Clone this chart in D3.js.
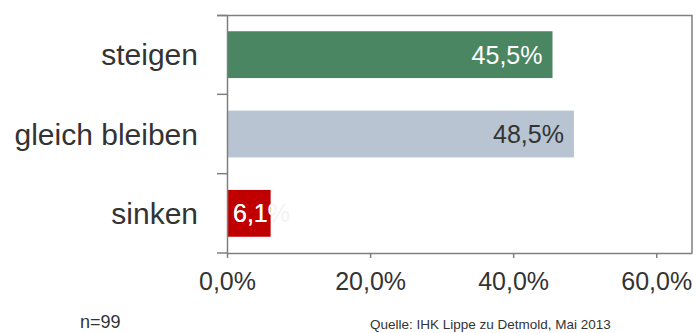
<!DOCTYPE html>
<html>
<head>
<meta charset="utf-8">
<script src="https://cdn.jsdelivr.net/npm/d3@7"></script>
<style>
  body { margin: 0; background: #fff; }
  text { font-family: "Liberation Sans", Arial, sans-serif; }
</style>
</head>
<body>
<svg id="chart"></svg>
<script>
// chart data
const categories = ["steigen", "gleich bleiben", "sinken"];
const values = [45.5, 48.5, 6.1];
const barColors = ["#4a8662", "#b8c4d1", "#c00000"];
const labelColors = ["#ffffff", "#333333", "#ffffff"];
const xTicks = [0, 20, 40, 60];
const noteText = "n=99";
const sourceText = "Quelle: IHK Lippe zu Detmold, Mai 2013";

const width = 699;
const height = 333;
const margin = { top: 15, right: 7, bottom: 80, left: 227 };
const chartWidth = width - margin.left - margin.right;
const chartHeight = height - margin.top - margin.bottom;
const axisColor = "#7f7f7f";
const textColor = "#333333";

const fmt = v => v.toFixed(1).replace(".", ",") + "%";

const svg = d3.select("#chart")
    .attr("width", width)
    .attr("height", height);

const g = svg.append("g")
    .attr("transform", `translate(${margin.left},${margin.top})`);

const xScale = d3.scaleLinear()
    .domain([0, 65])
    .range([0, chartWidth]);

const yScale = d3.scaleBand()
    .domain(categories)
    .range([0, chartHeight])
    .paddingInner(0.41)
    .paddingOuter(0.205);

// frame: top and right border
g.append("path")
    .attr("d", `M-10,0.5H${chartWidth}V${chartHeight}`)
    .attr("fill", "none")
    .attr("stroke", axisColor)
    .attr("stroke-width", 1.5);

// bars
g.selectAll(".bar")
    .data(values)
    .enter()
    .append("rect")
    .attr("class", "bar")
    .attr("x", xScale(0))
    .attr("y", (d, i) => yScale(categories[i]))
    .attr("width", d => xScale(d) - xScale(0))
    .attr("height", yScale.bandwidth())
    .attr("fill", (d, i) => barColors[i]);

// value labels (short bars: label starts inside and runs past the bar)
const isShort = d => xScale(d) <= 80;
g.selectAll(".val")
    .data(values)
    .enter()
    .append("text")
    .attr("class", "val")
    .attr("x", d => isShort(d) ? xScale(0) + 6 : xScale(d) - 10)
    .attr("y", (d, i) => yScale(categories[i]) + yScale.bandwidth() / 2)
    .attr("dy", "0.36em")
    .attr("text-anchor", d => isShort(d) ? "start" : "end")
    .attr("font-size", 25)
    .attr("fill", (d, i) => isShort(d) ? "#f3f3f3" : labelColors[i])
    .text(d => fmt(d));

g.append("clipPath").attr("id", "barclip")
    .selectAll("rect")
    .data(values)
    .enter()
    .append("rect")
    .attr("x", xScale(0))
    .attr("y", (d, i) => yScale(categories[i]))
    .attr("width", d => xScale(d) - xScale(0))
    .attr("height", yScale.bandwidth());

g.selectAll(".valclip")
    .data(values.filter(isShort))
    .enter()
    .append("text")
    .attr("class", "valclip")
    .attr("x", xScale(0) + 6)
    .attr("y", d => yScale(categories[values.indexOf(d)]) + yScale.bandwidth() / 2)
    .attr("dy", "0.36em")
    .attr("font-size", 25)
    .attr("fill", d => labelColors[values.indexOf(d)])
    .attr("clip-path", "url(#barclip)")
    .text(d => fmt(d));

// y axis
const yAxis = g.append("g")
    .call(d3.axisLeft(yScale).tickSize(0).tickFormat(""));
yAxis.select(".domain").attr("stroke", axisColor).attr("stroke-width", 1.5);

// band boundary ticks
const boundary = i => i === 0 ? 0.5 : (i === categories.length ? chartHeight : yScale(categories[i]) - yScale.step() * 0.205);
g.selectAll(".ytick")
    .data(d3.range(categories.length + 1))
    .enter()
    .append("line")
    .attr("class", "ytick")
    .attr("x1", -10)
    .attr("x2", 0)
    .attr("y1", i => boundary(i))
    .attr("y2", i => boundary(i))
    .attr("stroke", axisColor)
    .attr("stroke-width", 1.5);

// category labels
g.selectAll(".cat")
    .data(categories)
    .enter()
    .append("text")
    .attr("class", "cat")
    .attr("x", -29)
    .attr("y", d => yScale(d) + yScale.bandwidth() / 2)
    .attr("dy", "0.36em")
    .attr("text-anchor", "end")
    .attr("font-size", 30)
    .attr("fill", textColor)
    .text(d => d);

// x axis
const xAxis = g.append("g")
    .attr("transform", `translate(0,${chartHeight})`)
    .call(d3.axisBottom(xScale).tickValues(xTicks).tickSize(5).tickSizeOuter(0).tickFormat(d => fmt(d)));
xAxis.select(".domain").attr("stroke", axisColor).attr("stroke-width", 1.5);
xAxis.selectAll(".tick line").attr("stroke", axisColor).attr("stroke-width", 1.5);
xAxis.selectAll(".tick text")
    .attr("font-size", 25)
    .attr("font-family", "Liberation Sans, Arial, sans-serif")
    .attr("fill", textColor)
    .attr("y", 19);

// footer
svg.append("text")
    .attr("x", 80)
    .attr("y", 328)
    .attr("font-size", 18)
    .attr("fill", textColor)
    .text(noteText);

svg.append("text")
    .attr("x", 370)
    .attr("y", 329)
    .attr("font-size", 13.5)
    .attr("fill", textColor)
    .text(sourceText);
</script>
</body>
</html>
